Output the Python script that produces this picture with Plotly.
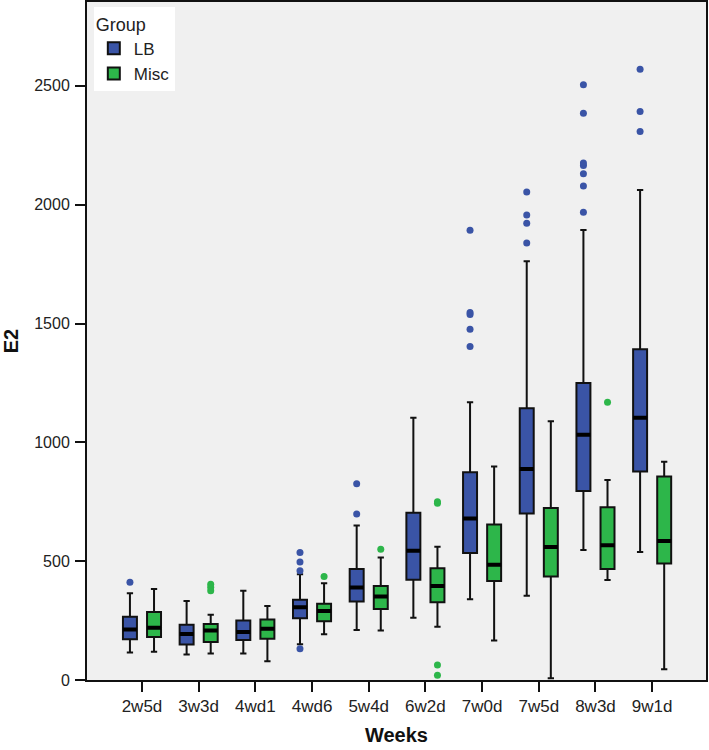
import plotly.graph_objects as go

weeks = ["2w5d", "3w3d", "4wd1", "4wd6", "5w4d", "6w2d", "7w0d", "7w5d", "8w3d", "9w1d"]

# LB group
lb_low = [116, 107, 112, 150, 210, 262, 340, 355, 547, 539]
lb_q1 = [171, 149, 168, 260, 330, 422, 534, 701, 795, 877]
lb_med = [213, 194, 202, 306, 389, 544, 680, 888, 1032, 1104]
lb_q3 = [266, 233, 250, 338, 467, 704, 874, 1143, 1250, 1392]
lb_high = [365, 332, 376, 445, 650, 1104, 1169, 1762, 1894, 2062]
lb_out = [
    [411],
    [],
    [],
    [537, 497, 460, 132],
    [826, 699],
    [],
    [1893, 1546, 1538, 1476, 1403],
    [2054, 1957, 1922, 1839],
    [2505, 2385, 2175, 2165, 2130, 2079, 1968],
    [2570, 2392, 2308],
]

# Misc group
mi_low = [119, 111, 79, 192, 208, 224, 166, 7, 421, 45]
mi_q1 = [181, 160, 174, 247, 299, 327, 417, 435, 467, 490]
mi_med = [220, 208, 216, 290, 351, 396, 485, 560, 567, 585]
mi_q3 = [286, 236, 255, 321, 396, 470, 654, 724, 727, 856]
mi_high = [383, 275, 311, 407, 516, 561, 898, 1089, 842, 918]
mi_out = [
    [],
    [403, 390, 376],
    [],
    [436],
    [550],
    [750, 744, 63, 20],
    [],
    [],
    [1169],
    [],
]

groups = [
    ("LB", "#3a54a6", lb_low, lb_q1, lb_med, lb_q3, lb_high, lb_out),
    ("Misc", "#2db64a", mi_low, mi_q1, mi_med, mi_q3, mi_high, mi_out),
]

fig = go.Figure()
for name, col, lo, q1, med, q3, hi, out in groups:
    samples = [row if row else [None] for row in out]
    fig.add_trace(go.Box(
        name=name, x=weeks, y=samples,
        q1=q1, median=med, q3=q3, lowerfence=lo, upperfence=hi,
        boxpoints="outliers", jitter=0, pointpos=0,
        fillcolor=col, line=dict(color="#111111", width=2),
        marker=dict(color=col, size=7, line=dict(width=0)),
        whiskerwidth=0.45, offsetgroup=name,
    ))
for name, col, lo, q1, med, q3, hi, out in groups:
    # thicker median line overlay
    fig.add_trace(go.Box(
        name=name, x=weeks,
        q1=med, median=med, q3=med, lowerfence=med, upperfence=med,
        boxpoints=False, fillcolor="rgba(0,0,0,0)",
        line=dict(color="#000000", width=4), whiskerwidth=0,
        offsetgroup=name, showlegend=False, hoverinfo="skip",
    ))

fig.update_layout(
    width=709, height=750,
    margin=dict(l=87, r=3, t=2, b=70),
    paper_bgcolor="white", plot_bgcolor="#f0f0f0",
    boxmode="group", boxgap=0.15, boxgroupgap=0.42,
    font=dict(family="Arial, Liberation Sans, sans-serif", size=16, color="#222222"),
    legend=dict(
        x=0.011, y=0.992, xanchor="left", yanchor="top",
        bgcolor="white", borderwidth=0,
        title=dict(text="Group", font=dict(size=18)),
        font=dict(size=17), itemsizing="constant", itemwidth=30,
    ),
    xaxis=dict(
        type="category", range=[-0.97, 9.95], automargin=False,
        showline=True, linecolor="#111111", linewidth=2, mirror=True,
        ticks="outside", ticklen=10, tickwidth=2, tickcolor="#111111",
        tickfont=dict(size=17),
        showgrid=False, zeroline=False,
        title=dict(text="<b>Weeks</b>", font=dict(size=20, color="#111111"), standoff=13),
    ),
    yaxis=dict(
        range=[0, 2853], tickvals=[0, 500, 1000, 1500, 2000, 2500], automargin=False,
        showline=True, linecolor="#111111", linewidth=2, mirror=True,
        ticks="outside", ticklen=10, tickwidth=2, tickcolor="#111111",
        ticklabelstandoff=2,
        showgrid=False, zeroline=False,
        title=dict(text="<b>E2</b>", font=dict(size=20, color="#111111"), standoff=18),
    ),
)

fig.write_html("out.html", config={"displayModeBar": False},
               post_script="document.body.style.margin='0';")
